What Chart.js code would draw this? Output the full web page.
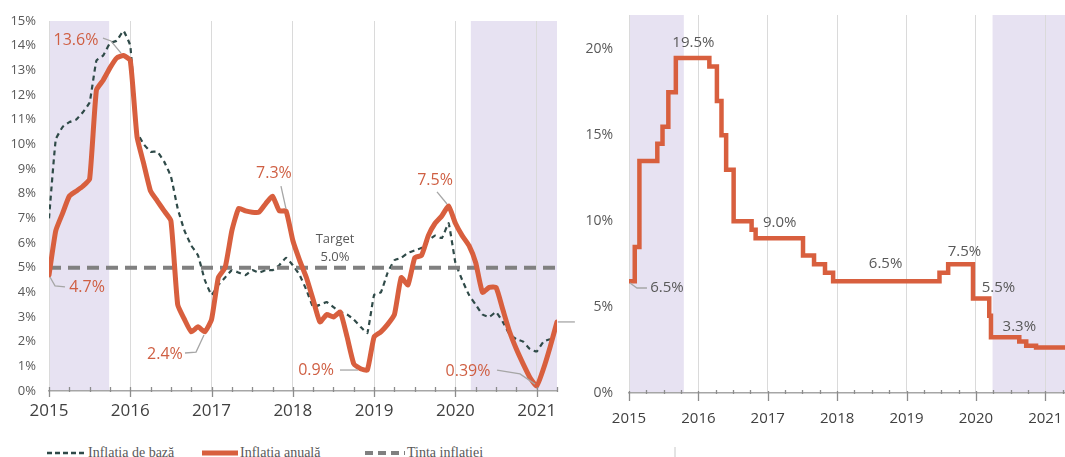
<!DOCTYPE html>
<html>
<head>
<meta charset="utf-8">
<script src="https://cdn.jsdelivr.net/npm/chart.js@4.4.1/dist/chart.umd.min.js"></script>
<style>
    html, body { margin: 0; padding: 0; background: #fff; }
    body { width: 1065px; height: 457px; overflow: hidden; position: relative; }
    .panel { position: absolute; top: 0; height: 440px; }
    #leftPanel { left: 0; width: 580px; }
    #rightPanel { left: 575px; width: 505px; }
    #legend { position: absolute; left: 0; top: 440px; overflow: visible; }
</style>
</head>
<body>
<div class="panel" id="leftPanel"><canvas id="inflationChart"></canvas></div>
<div class="panel" id="rightPanel"><canvas id="rateChart"></canvas></div>
<svg id="legend" width="700" height="20">
    <line x1="47" y1="13" x2="86" y2="13" stroke="#2f4a48" stroke-width="2.5" stroke-dasharray="5 3"/>
    <text x="88" y="16.5" font-family="Liberation Serif" font-size="14" fill="#595959">Inflatia de bază</text>
    <line x1="202" y1="13" x2="238" y2="13" stroke="#d85f3e" stroke-width="5"/>
    <text x="240" y="16.5" font-family="Liberation Serif" font-size="14" fill="#595959">Inflatia anuală</text>
    <line x1="365" y1="13" x2="405" y2="13" stroke="#808080" stroke-width="4" stroke-dasharray="8 5"/>
    <text x="407" y="16.5" font-family="Liberation Serif" font-size="14" fill="#595959">Tinta inflatiei</text>
    <line x1="675" y1="7" x2="675" y2="20" stroke="#c8c8c8" stroke-width="1"/>
</svg>

<script>
// --- Stânga: inflația lunară, ian 2015 - apr 2021 (%) ---
const startYear = 2015;
const annualInflation = [
    4.7, 6.5, 7.2, 7.9, 8.1, 8.3, 8.6, 12.2, 12.6, 13.1, 13.5, 13.6,
    13.4, 10.3, 9.2, 8.1, 7.7, 7.3, 6.9, 3.5, 2.9, 2.4, 2.6, 2.4,
    2.9, 4.6, 5.0, 6.5, 7.4, 7.3, 7.25, 7.25, 7.6, 7.9, 7.3, 7.3,
    6.1, 5.3, 4.6, 3.7, 2.8, 3.1, 3.0, 3.2, 2.2, 1.1, 0.9, 0.85,
    2.2, 2.4, 2.7, 3.1, 4.6, 4.3, 5.4, 5.5, 6.3, 6.8, 7.1, 7.5,
    6.8, 6.3, 5.9, 5.2, 4.0, 4.2, 4.2, 3.3, 2.4, 1.7, 1.1, 0.55,
    0.2, 0.9, 1.8, 2.8
];
const coreInflation = [
    7.0, 10.2, 10.7, 10.9, 11.0, 11.3, 11.7, 13.4, 13.6, 14.1, 14.2, 14.6,
    14.0, 10.5, 10.0, 9.7, 9.7, 9.3, 8.7, 7.4, 6.5, 5.9, 5.5, 4.5,
    3.9, 4.3, 4.6, 4.9, 4.8, 4.7, 4.9, 4.8, 4.9, 4.9, 5.1, 5.4,
    5.1, 4.7, 4.1, 3.4, 3.5, 3.6, 3.4, 3.2, 3.1, 2.9, 2.6, 2.35,
    3.9, 4.0, 4.8, 5.3, 5.4, 5.6, 5.7, 5.8, 6.1, 6.3, 6.2, 6.8,
    5.2, 4.5, 3.9, 3.5, 3.1, 3.0, 3.2, 2.8, 2.3, 2.1, 2.0, 1.7,
    1.6, 2.0, 2.1, null
];
const inflationTarget = 5.0;
const leftRange = [2015, 2021.25];
const leftShades = [[2015, 2015.74], [2020.19, 2021.25]];

// --- Dreapta: rata de bază (trepte), data schimbării -> nivel nou ---
const rateDates = [
    2015.0, 2015.083, 2015.15, 2015.408, 2015.483, 2015.567, 2015.675,
    2016.158, 2016.267, 2016.333, 2016.4, 2016.508, 2016.767, 2016.825,
    2017.508, 2017.667, 2017.825, 2017.942,
    2019.475, 2019.6, 2019.958,
    2020.192, 2020.217, 2020.625, 2020.725, 2020.867, 2021.35
];
const rateValues = [
    6.5, 8.5, 13.5, 14.5, 15.5, 17.5, 19.5,
    19.0, 17.0, 15.0, 13.0, 10.0, 9.5, 9.0,
    8.0, 7.5, 7.0, 6.5,
    7.0, 7.5, 5.5,
    4.5, 3.25, 3.0, 2.75, 2.65, 2.65
];
const rightRange = [2015, 2021.35];
const rightShades = [[2015, 2015.79], [2020.24, 2021.35]];

const ORANGE = '#d85f3e';
const ORANGE_TEXT = '#cf5f43';
const GRAY_TEXT = '#595959';
const LEADER = '#a6a6a6';

Chart.defaults.font.family = "'Open Sans', sans-serif";

// fundal mov pentru perioadele marcate
const shadeBands = {
    id: 'shadeBands',
    beforeDraw(chart, args, opts) {
        const { ctx, chartArea: a, scales: { x } } = chart;
        ctx.save();
        ctx.fillStyle = opts.color;
        opts.ranges.forEach(([from, to]) => {
            const x0 = x.getPixelForValue(from);
            const x1 = x.getPixelForValue(to);
            ctx.fillRect(x0, a.top, x1 - x0, a.bottom - a.top);
        });
        ctx.restore();
    }
};

// gradatii trimestriale pe axa X
const quarterTicks = {
    id: 'quarterTicks',
    afterDraw(chart, args, opts) {
        const { ctx, chartArea: a, scales: { x } } = chart;
        ctx.save();
        ctx.strokeStyle = opts.color;
        ctx.lineWidth = 1.3;
        const first = Math.ceil(x.min * 4 - 1e-6);
        const last = Math.floor(x.max * 4 + 1e-6);
        for (let q = first; q <= last; q++) {
            const px = Math.round(x.getPixelForValue(q / 4)) + 0.5;
            const [up, down] = q % 4 === 0 ? opts.major : opts.minor;
            ctx.beginPath();
            ctx.moveTo(px, a.bottom - up);
            ctx.lineTo(px, a.bottom + down);
            ctx.stroke();
        }
        ctx.restore();
    }
};

// etichete cu valori si linii de legatura
const callouts = {
    id: 'callouts',
    afterDatasetsDraw(chart, args, opts) {
        const { ctx, scales: { x, y } } = chart;
        ctx.save();
        opts.items.forEach(it => {
            if (it.leader) {
                ctx.beginPath();
                ctx.strokeStyle = LEADER;
                ctx.lineWidth = 1.3;
                it.leader.forEach(([t, v], k) => {
                    const px = x.getPixelForValue(t), py = y.getPixelForValue(v);
                    k === 0 ? ctx.moveTo(px, py) : ctx.lineTo(px, py);
                });
                ctx.stroke();
            }
            if (it.text) {
                ctx.fillStyle = it.color;
                ctx.font = `${it.size}px 'Open Sans', sans-serif`;
                ctx.textAlign = 'center';
                ctx.textBaseline = 'middle';
                ctx.fillText(it.text, x.getPixelForValue(it.at[0]), y.getPixelForValue(it.at[1]));
            }
        });
        ctx.restore();
    }
};

// doar anii intregi ca etichete pe axa X
const yearTicks = (scale) => {
    const ticks = [];
    for (let v = Math.ceil(scale.min); v <= scale.max; v++) ticks.push({ value: v });
    scale.ticks = ticks;
};

function makeXScale(range, fontSize, padding, height) {
    return {
        type: 'linear',
        min: range[0],
        max: range[1],
        afterBuildTicks: yearTicks,
        afterFit: (s) => { s.height = height; },
        ticks: {
            autoSkip: false,
            maxRotation: 0,
            padding: padding,
            color: '#404040',
            font: { size: fontSize },
            callback: (v) => String(v)
        },
        grid: { color: '#dadada', lineWidth: 1, drawTicks: false },
        border: { display: true, color: '#a6a6a6', width: 1.5 }
    };
}

function makeYScale(max, step, fontSize, padding, width) {
    return {
        min: 0,
        max: max,
        afterBuildTicks: (s) => { s.ticks = s.ticks.filter(t => t.value % step === 0); },
        afterFit: (s) => {
            s.width = width;
            // nu lasa padding-ul etichetelor sa impinga zona graficului
            s.paddingTop = 8;
            s.paddingBottom = 8;
        },
        ticks: {
            stepSize: step,
            padding: padding,
            color: GRAY_TEXT,
            font: { size: fontSize },
            callback: (v) => v + '%'
        },
        grid: { display: false, drawTicks: false },
        border: { display: false }
    };
}

// ---------- grafic stânga ----------
const months = annualInflation.map((_, i) => startYear + i / 12);

new Chart(document.getElementById('inflationChart'), {
    type: 'line',
    data: {
        datasets: [
            {
                label: 'Inflatia anuală',
                data: months.map((t, i) => ({ x: t, y: annualInflation[i] })),
                borderColor: ORANGE,
                borderWidth: 5,
                tension: 0.15,
                borderJoinStyle: 'round',
                borderCapStyle: 'round',
                pointRadius: 0,
                order: 0
            },
            {
                label: 'Tinta inflatiei',
                data: leftRange.map(t => ({ x: t, y: inflationTarget })),
                borderColor: '#808080',
                borderWidth: 4,
                borderDash: [12, 7],
                pointRadius: 0,
                order: 1
            },
            {
                label: 'Inflatia de bază',
                data: months.map((t, i) => ({ x: t, y: coreInflation[i] })),
                borderColor: '#2f4a48',
                borderWidth: 2.2,
                borderDash: [5, 4],
                tension: 0.1,
                pointRadius: 0,
                spanGaps: false,
                order: 2
            }
        ]
    },
    options: {
        responsive: true,
        maintainAspectRatio: false,
        animation: false,
        layout: { padding: { top: 21, right: 23, left: 0, bottom: 0 } },
        plugins: {
            legend: { display: false },
            tooltip: { enabled: false },
            shadeBands: { color: '#e7e2f2', ranges: leftShades },
            quarterTicks: { color: '#8c8c8c', major: [4, 6], minor: [4, 1] },
            callouts: {
                items: [
                    { text: '13.6%', at: [2015.332, 14.23], color: ORANGE_TEXT, size: 16,
                      leader: [[2015.664, 14.31], [2015.763, 14.19], [2015.886, 13.7]] },
                    { text: '4.7%', at: [2015.468, 4.18], color: ORANGE_TEXT, size: 16,
                      leader: [[2015.012, 4.62], [2015.074, 4.26], [2015.197, 4.22]] },
                    { text: '2.4%', at: [2016.427, 1.5], color: ORANGE_TEXT, size: 16,
                      leader: [[2016.673, 1.54], [2016.809, 1.58], [2016.907, 2.27]] },
                    { text: '7.3%', at: [2017.768, 8.8], color: ORANGE_TEXT, size: 16,
                      leader: [[2017.854, 8.31], [2017.916, 7.38]] },
                    { text: 'Target', at: [2018.519, 6.16], color: GRAY_TEXT, size: 13 },
                    { text: '5.0%', at: [2018.519, 5.43], color: GRAY_TEXT, size: 13 },
                    { text: '0.9%', at: [2018.285, 0.85], color: ORANGE_TEXT, size: 16,
                      leader: [[2018.58, 0.85], [2018.802, 0.85]] },
                    { text: '7.5%', at: [2019.749, 8.55], color: ORANGE_TEXT, size: 16,
                      leader: [[2019.774, 8.07], [2019.897, 7.58]] },
                    { text: '0.39%', at: [2020.155, 0.81], color: ORANGE_TEXT, size: 16,
                      leader: [[2020.512, 0.85], [2020.795, 0.69], [2020.98, 0.28]] },
                    { leader: [[2021.26, 2.8], [2021.47, 2.8]] }
                ]
            }
        },
        scales: {
            x: makeXScale(leftRange, 17, 10, 49),
            y: makeYScale(15, 1, 13, 13, 49)
        }
    },
    plugins: [shadeBands, quarterTicks, callouts]
});

// ---------- grafic dreapta ----------
new Chart(document.getElementById('rateChart'), {
    type: 'line',
    data: {
        datasets: [{
            label: 'Rata de bază',
            data: rateDates.map((t, i) => ({ x: t, y: rateValues[i] })),
            borderColor: ORANGE,
            borderWidth: 4.5,
            stepped: 'before',
            borderJoinStyle: 'miter',
            pointRadius: 0
        }]
    },
    options: {
        responsive: true,
        maintainAspectRatio: false,
        animation: false,
        layout: { padding: { top: 15, right: 10, left: 0, bottom: 0 } },
        plugins: {
            legend: { display: false },
            tooltip: { enabled: false },
            shadeBands: { color: '#e7e2f2', ranges: rightShades },
            quarterTicks: { color: '#8c8c8c', major: [2, 8], minor: [3, 1] },
            callouts: {
                items: [
                    { text: '6.5%', at: [2015.547, 6.11], color: GRAY_TEXT, size: 15,
                      leader: [[2015.014, 6.4], [2015.115, 6.11], [2015.259, 6.11]] },
                    { text: '19.5%', at: [2015.928, 20.37], color: GRAY_TEXT, size: 15 },
                    { text: '9.0%', at: [2017.173, 9.9], color: GRAY_TEXT, size: 15 },
                    { text: '6.5%', at: [2018.698, 7.51], color: GRAY_TEXT, size: 15 },
                    { text: '7.5%', at: [2019.835, 8.21], color: GRAY_TEXT, size: 15 },
                    { text: '5.5%', at: [2020.324, 6.11], color: GRAY_TEXT, size: 15 },
                    { text: '3.3%', at: [2020.626, 3.84], color: GRAY_TEXT, size: 15 }
                ]
            }
        },
        scales: {
            x: makeXScale(rightRange, 15, 17, 47),
            y: makeYScale(22, 5, 14, 16, 54)
        }
    },
    plugins: [shadeBands, quarterTicks, callouts]
});
</script>
</body>
</html>
